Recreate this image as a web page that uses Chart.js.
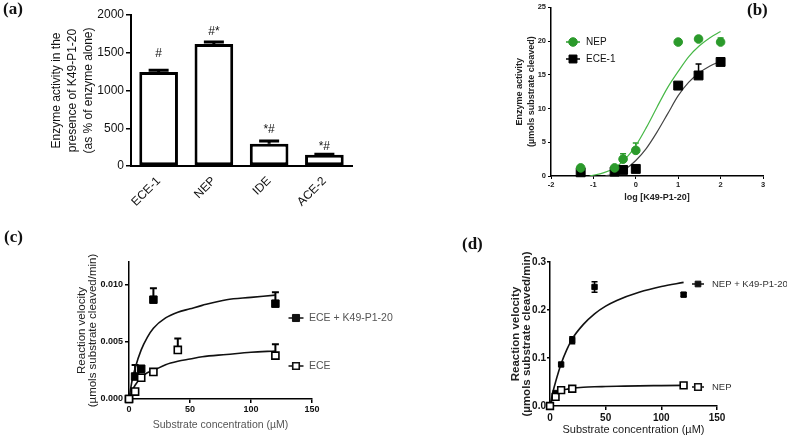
<!DOCTYPE html>
<html>
<head>
<meta charset="utf-8">
<script src="https://cdn.jsdelivr.net/npm/chart.js@4.4.1/dist/chart.umd.min.js"></script>
<style>
  html, body { margin: 0; padding: 0; background: #fff; }
  #wrap { position: relative; width: 787px; height: 444px; overflow: hidden; }
  canvas { position: absolute; }
  .tag { position: absolute; font: bold 17px "Liberation Serif", "Times New Roman", serif; color: #111; }
</style>
</head>
<body>
<div id="wrap">
  <canvas id="chartA" width="380" height="215" style="left:0;top:0"></canvas>
  <canvas id="chartB" width="307" height="215" style="left:480px;top:0"></canvas>
  <canvas id="chartC" width="420" height="219" style="left:0;top:225px"></canvas>
  <canvas id="chartD" width="397" height="219" style="left:390px;top:225px"></canvas>
  <div class="tag" style="left:3px;top:-1px">(a)</div>
  <div class="tag" style="left:747px;top:0px">(b)</div>
  <div class="tag" style="left:4px;top:227px">(c)</div>
  <div class="tag" style="left:462px;top:234px">(d)</div>
</div>
<script>
// --- (a) enzyme activity with K49-P1-20 ---
const enzymeLabels = ["ECE-1", "NEP", "IDE", "ACE-2"];
const activityPct = [1245, 1615, 295, 148];
const activityErr = [22, 28, 35, 8];
const sigLabels = ["#", "#*", "*#", "*#"];

// --- (b) dose response ---
const logConc = [-1.3, -0.5, -0.3, 0, 1, 1.48, 2];
const nepActivity = [1.2, 1.2, 2.5, 3.8, 19.85, 20.3, 19.85];
const nepActivityErr = [0, 0.2, 0.8, 1.1, 0, 0.4, 0.6];
const eceActivity = [0.55, 0.65, 0.9, 1.05, 13.4, 14.9, 16.9];
const eceActivityErr = [0, 0, 0, 0, 0, 1.7, 0];
const nepFitLogConc = [-1.09, -0.75, -0.5, -0.25, 0, 0.25, 0.5, 0.75, 1, 1.25, 1.5, 1.75, 2];
const nepFit = [0, 0.5, 1.2, 2.5, 4.5, 7.2, 10.2, 13.1, 15.5, 17.7, 19.3, 20.5, 21.4];
const eceFitLogConc = [-0.72, -0.5, -0.25, 0, 0.25, 0.5, 0.75, 1, 1.25, 1.5, 1.75, 2];
const eceFit = [0, 0.3, 1.0, 2.3, 4.1, 6.5, 9.2, 11.9, 13.9, 15.3, 16.3, 17.0];

// --- (c) ECE kinetics ---
const eceK49Conc = [0, 5, 10, 20, 120];
const eceK49Rate = [0, 0.00197, 0.00265, 0.0087, 0.00835];
const eceK49Err = [0, 0.001, 0, 0.001, 0.001];
const eceConc = [0, 5, 10, 20, 40, 120];
const eceRate = [0, 0.00065, 0.00187, 0.00237, 0.0043, 0.0038];
const eceErr = [0, 0, 0, 0, 0.001, 0.001];
const fitConc = [0, 2.5, 5, 10, 15, 20, 30, 40, 50, 60, 80, 100, 120];
const eceK49Fit = [0, 0.0016, 0.0027, 0.0043, 0.0054, 0.0062, 0.0071, 0.0076, 0.0079, 0.0082, 0.0087, 0.0089, 0.0091];
const eceFitC = [0, 0.0007, 0.0012, 0.0019, 0.0023, 0.0025, 0.003, 0.0033, 0.0035, 0.0037, 0.0039, 0.0041, 0.0042];

// --- (d) NEP kinetics ---
const nepK49Conc = [0, 5, 10, 20, 40, 120];
const nepK49Rate = [0, 0.027, 0.0865, 0.137, 0.248, 0.232];
const nepK49Err = [0, 0, 0, 0.007, 0.011, 0.004];
const nepConc = [0, 5, 10, 20, 120];
const nepRate = [0, 0.019, 0.033, 0.036, 0.043];
const nepK49Fit = [0, 0.028, 0.05, 0.088, 0.117, 0.14, 0.17, 0.192, 0.208, 0.22, 0.237, 0.249, 0.2575];
const nepFitD = [0, 0.017, 0.026, 0.033, 0.035, 0.037, 0.039, 0.04, 0.0405, 0.041, 0.042, 0.0425, 0.043];

Chart.defaults.font.family = "'Liberation Sans', Arial, sans-serif";
Chart.defaults.color = "#111";
Chart.defaults.animation = false;

const GREEN = "#2b9a2b";
const GREEN_LINE = "#47b847";

function toXY(xs, ys) {
  return xs.map((x, i) => ({ x: x, y: ys[i] }));
}

// error bars drawn under the markers
const errorBarPlugin = {
  id: "errorBars",
  beforeDatasetsDraw(chart) {
    const ctx = chart.ctx;
    chart.data.datasets.forEach((ds, i) => {
      if (!ds.errUp) {return;}
      const meta = chart.getDatasetMeta(i);
      const yScale = chart.scales[meta.yAxisID];
      ctx.save();
      ctx.strokeStyle = ds.errColor || "#000";
      ctx.lineWidth = ds.errWidth || 1.5;
      meta.data.forEach((el, j) => {
        const v = ds.data[j];
        const val = typeof v === "object" ? v.y : v;
        const e = ds.errUp[j];
        if (!e) {return;}
        const half = ds.capHalf || 3;
        const dirs = ds.errBoth ? [1, -1] : [1];
        dirs.forEach(s => {
          const y1 = yScale.getPixelForValue(val + s * e);
          ctx.beginPath();
          ctx.moveTo(el.x, el.y);
          ctx.lineTo(el.x, y1);
          ctx.moveTo(el.x - half, y1);
          ctx.lineTo(el.x + half, y1);
          ctx.stroke();
        });
      });
      ctx.restore();
    });
  }
};

// significance marks above bars in (a)
const sigPlugin = {
  id: "sigMarks",
  afterDatasetsDraw(chart, args, opts) {
    const ctx = chart.ctx;
    const meta = chart.getDatasetMeta(0);
    ctx.save();
    ctx.font = "12px 'Liberation Sans', Arial, sans-serif";
    ctx.fillStyle = "#111";
    ctx.textAlign = "center";
    ctx.textBaseline = "middle";
    meta.data.forEach((bar, i) => {
      const y = chart.scales.y.getPixelForValue(activityPct[i] + activityErr[i]) - opts.offsets[i];
      ctx.fillText(sigLabels[i], bar.x, y);
    });
    ctx.restore();
  }
};

// small "-marker-" legends placed beside the plots
const markerLegendPlugin = {
  id: "markerLegend",
  afterDraw(chart, args, opts) {
    const ctx = chart.ctx;
    (opts.items || []).forEach(it => {
      ctx.save();
      ctx.strokeStyle = it.color;
      ctx.lineWidth = it.lineWidth || 1.5;
      ctx.beginPath();
      ctx.moveTo(it.x - it.half, it.y);
      ctx.lineTo(it.x + it.half, it.y);
      ctx.stroke();
      ctx.fillStyle = it.fill;
      ctx.lineWidth = it.borderWidth || 1;
      Chart.helpers.drawPoint(ctx, { pointStyle: it.style, rotation: 0, radius: it.radius, borderWidth: it.borderWidth || 1 }, it.x, it.y);
      ctx.fillStyle = it.textColor || "#111";
      ctx.font = it.font;
      ctx.textAlign = "left";
      ctx.textBaseline = "middle";
      ctx.fillText(it.text, it.textX, it.y);
      ctx.restore();
    });
  }
};

const noLegend = { legend: { display: false }, tooltip: { enabled: false } };

// ---------- (a) ----------
new Chart(document.getElementById("chartA"), {
  type: "bar",
  data: {
    labels: enzymeLabels,
    datasets: [{
      data: activityPct,
      errUp: activityErr,
      capHalf: 10,
      errWidth: 3,
      backgroundColor: "#fff",
      borderColor: "#000",
      borderWidth: 3,
      borderSkipped: false,
      barPercentage: 0.7,
      categoryPercentage: 1
    }]
  },
  options: {
    responsive: false,
    layout: { padding: { left: 0, top: 15, right: 28, bottom: 0 } },
    plugins: { ...noLegend, sigMarks: { offsets: [17, 10, 11, 8] } },
    scales: {
      x: {
        grid: { display: false },
        border: { color: "#000", width: 2 },
        ticks: { font: { size: 12 }, color: "#111", minRotation: 45, maxRotation: 45, padding: 0 },
        afterFit: s => { s.height = 49; }
      },
      y: {
        min: 0, max: 2000,
        ticks: { stepSize: 500, font: { size: 12 }, color: "#111", padding: 2, callback: v => String(v) },
        grid: { drawOnChartArea: false, tickLength: 5, color: "#000", lineWidth: 1.5 },
        border: { color: "#000", width: 2 },
        title: {
          display: true,
          text: ["Enzyme activity in the", "presence of K49-P1-20", "(as % of enzyme alone)"],
          font: { size: 12, lineHeight: 1.33 },
          color: "#111",
          padding: { top: 49, bottom: 0 }
        },
        afterFit: s => { s.width = 131; }
      }
    }
  },
  plugins: [errorBarPlugin, sigPlugin]
});

// ---------- (b) ----------
new Chart(document.getElementById("chartB"), {
  type: "scatter",
  data: {
    datasets: [
      { data: toXY(logConc, nepActivity), errUp: nepActivityErr, errColor: GREEN, capHalf: 3, errWidth: 1.5,
        pointStyle: "circle", pointRadius: 4.3, backgroundColor: GREEN, borderColor: GREEN, clip: false },
      { data: toXY(logConc, eceActivity), errUp: eceActivityErr, capHalf: 3, errWidth: 1.5,
        pointStyle: "rect", pointRadius: 6.3, backgroundColor: "#000", borderColor: "#000", clip: false },
      { data: toXY(nepFitLogConc, nepFit), showLine: true, pointRadius: 0, borderColor: GREEN_LINE, borderWidth: 1.2, cubicInterpolationMode: "monotone" },
      { data: toXY(eceFitLogConc, eceFit), showLine: true, pointRadius: 0, borderColor: "#444", borderWidth: 1.2, cubicInterpolationMode: "monotone" }
    ]
  },
  options: {
    responsive: false,
    layout: { padding: { left: 0, top: 7, right: 24, bottom: 0 } },
    plugins: {
      ...noLegend,
      markerLegend: {
        items: [
          { x: 93, y: 42, half: 7, style: "circle", radius: 4.3, color: GREEN, fill: GREEN, text: "NEP", textX: 106, font: "10px 'Liberation Sans', Arial, sans-serif" },
          { x: 93, y: 59, half: 7, style: "rect", radius: 5.6, color: "#000", fill: "#000", text: "ECE-1", textX: 106, font: "10px 'Liberation Sans', Arial, sans-serif" }
        ]
      }
    },
    scales: {
      x: {
        min: -2, max: 3,
        ticks: { stepSize: 1, font: { size: 7.5, weight: "bold" }, color: "#222", padding: 1 },
        grid: { drawOnChartArea: false, tickLength: 3, color: "#000" },
        border: { color: "#000", width: 1.5 },
        title: { display: true, text: "log [K49-P1-20]", font: { size: 9, weight: "bold" }, color: "#222", padding: { top: 0, bottom: 12.5 } },
        afterFit: s => { s.height = 39; }
      },
      y: {
        min: 0, max: 25,
        ticks: { stepSize: 5, font: { size: 7.5, weight: "bold" }, color: "#222", padding: 2 },
        grid: { drawOnChartArea: false, tickLength: 3, color: "#000" },
        border: { color: "#000", width: 1.5 },
        title: {
          display: true,
          text: ["Enzyme activity", "(µmols substrate cleaved)"],
          font: { size: 9, weight: "bold", lineHeight: 1.38 },
          color: "#222",
          padding: { top: 33, bottom: 0 }
        },
        afterFit: s => { s.width = 71; }
      }
    }
  },
  plugins: [errorBarPlugin, markerLegendPlugin]
});

// ---------- (c) ----------
new Chart(document.getElementById("chartC"), {
  type: "scatter",
  data: {
    datasets: [
      { data: toXY(eceConc, eceRate), errUp: eceErr, capHalf: 3.5, errWidth: 2,
        pointStyle: "rect", pointRadius: 5, borderWidth: 1.6, backgroundColor: "#fff", borderColor: "#000", clip: false },
      { data: toXY(eceK49Conc, eceK49Rate), errUp: eceK49Err, capHalf: 3.5, errWidth: 2,
        pointStyle: "rect", pointRadius: 5.3, backgroundColor: "#000", borderColor: "#000", clip: false },
      { data: toXY(fitConc, eceK49Fit), showLine: true, pointRadius: 0, borderColor: "#111", borderWidth: 1.6, cubicInterpolationMode: "monotone" },
      { data: toXY(fitConc, eceFitC), showLine: true, pointRadius: 0, borderColor: "#111", borderWidth: 1.6, cubicInterpolationMode: "monotone" }
    ]
  },
  options: {
    responsive: false,
    layout: { padding: { left: 0, top: 37, right: 108, bottom: 0 } },
    plugins: {
      ...noLegend,
      markerLegend: {
        items: [
          { x: 296, y: 93, half: 7.5, style: "rect", radius: 5, color: "#111", fill: "#111", text: "ECE + K49-P1-20", textX: 309, textColor: "#555", font: "10.5px 'Liberation Sans', Arial, sans-serif" },
          { x: 296, y: 141, half: 7.5, style: "rect", radius: 4.6, borderWidth: 1.6, color: "#111", fill: "#fff", text: "ECE", textX: 309, textColor: "#555", font: "10.5px 'Liberation Sans', Arial, sans-serif" }
        ]
      }
    },
    scales: {
      x: {
        min: 0, max: 150,
        ticks: { stepSize: 50, font: { size: 9, weight: "bold" }, color: "#111", padding: 1 },
        grid: { drawOnChartArea: false, tickLength: 4, color: "#000", lineWidth: 1.5 },
        border: { color: "#000", width: 1.5 },
        title: { display: true, text: "Substrate concentration (µM)", font: { size: 10.5 }, color: "#555", padding: { top: 0, bottom: 12.5 } },
        afterFit: s => { s.height = 45; }
      },
      y: {
        min: 0, max: 0.012,
        ticks: { stepSize: 0.005, font: { size: 9, weight: "bold" }, color: "#111", padding: 2, callback: v => v.toFixed(3) },
        afterBuildTicks: s => { s.ticks = s.ticks.filter(t => Math.abs(t.value * 200 - Math.round(t.value * 200)) < 1e-6); },
        grid: { drawOnChartArea: false, tickLength: 4, color: "#000", lineWidth: 1.5 },
        border: { color: "#000", width: 1.5 },
        title: {
          display: true,
          text: ["Reaction velocity", "(µmols substrate cleaved/min)"],
          font: { size: 11.5, lineHeight: 1.0 },
          color: "#222",
          padding: { top: 76, bottom: 0 }
        },
        afterFit: s => { s.width = 129; }
      }
    }
  },
  plugins: [errorBarPlugin, markerLegendPlugin]
});

// ---------- (d) ----------
new Chart(document.getElementById("chartD"), {
  type: "scatter",
  data: {
    datasets: [
      { data: toXY(nepConc, nepRate), pointStyle: "rect", pointRadius: 4.8, borderWidth: 1.6, backgroundColor: "#fff", borderColor: "#000", clip: false },
      { data: toXY(nepK49Conc, nepK49Rate), errUp: nepK49Err, errBoth: true, capHalf: 3, errWidth: 1.6,
        pointStyle: "rect", pointRadius: 3.8, backgroundColor: "#000", borderColor: "#000", clip: false },
      { data: toXY(fitConc, nepK49Fit), showLine: true, pointRadius: 0, borderColor: "#111", borderWidth: 1.6, cubicInterpolationMode: "monotone" },
      { data: toXY(fitConc, nepFitD), showLine: true, pointRadius: 0, borderColor: "#111", borderWidth: 1.6, cubicInterpolationMode: "monotone" }
    ]
  },
  options: {
    responsive: false,
    layout: { padding: { left: 0, top: 37, right: 70, bottom: 0 } },
    plugins: {
      ...noLegend,
      markerLegend: {
        items: [
          { x: 308, y: 59, half: 6, style: "rect", radius: 4, color: "#111", fill: "#111", text: "NEP + K49-P1-20", textX: 322, textColor: "#333", font: "9.5px 'Liberation Sans', Arial, sans-serif" },
          { x: 308, y: 162, half: 6, style: "rect", radius: 4.6, borderWidth: 1.6, color: "#111", fill: "#fff", text: "NEP", textX: 322, textColor: "#333", font: "9.5px 'Liberation Sans', Arial, sans-serif" }
        ]
      }
    },
    scales: {
      x: {
        min: 0, max: 150,
        ticks: { stepSize: 50, font: { size: 10, weight: "bold" }, color: "#111", padding: 2 },
        grid: { drawOnChartArea: false, tickLength: 4, color: "#000", lineWidth: 1.5 },
        border: { color: "#000", width: 1.5 },
        title: { display: true, text: "Substrate concentration (µM)", font: { size: 11 }, color: "#222", padding: { top: 0, bottom: 7.5 } },
        afterFit: s => { s.height = 38; }
      },
      y: {
        min: 0, max: 0.3,
        ticks: { stepSize: 0.1, font: { size: 10, weight: "bold" }, color: "#111", padding: 1, callback: v => v.toFixed(1) },
        grid: { drawOnChartArea: false, tickLength: 3, color: "#000", lineWidth: 1.5 },
        border: { color: "#000", width: 1.5 },
        title: {
          display: true,
          text: ["Reaction velocity", "(µmols substrate cleaved/min)"],
          font: { size: 11.5, weight: "bold", lineHeight: 0.96 },
          color: "#222",
          padding: { top: 120.5, bottom: 0 }
        },
        afterFit: s => { s.width = 160; }
      }
    }
  },
  plugins: [errorBarPlugin, markerLegendPlugin]
});
</script>
</body>
</html>
